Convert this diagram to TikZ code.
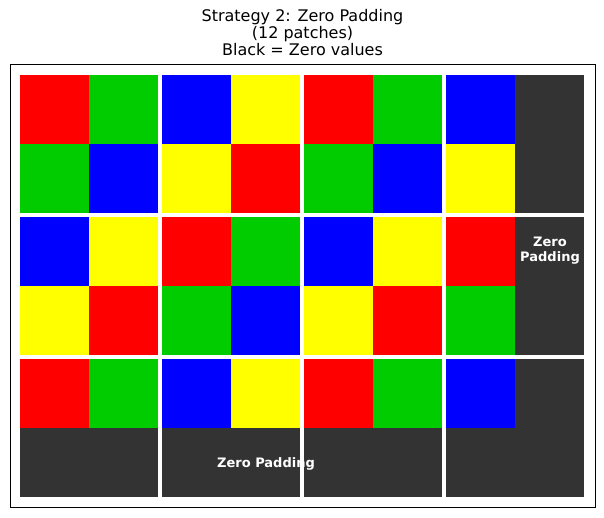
\documentclass[tikz,border=0pt]{standalone}
\usepackage{fontspec}
\setmainfont{DejaVu Sans}
\usepackage{xcolor}
\usepackage{tikz}
\usetikzlibrary{positioning}
\definecolor{cellred}{RGB}{255,0,0}
\definecolor{cellgreen}{RGB}{0,204,0}
\definecolor{cellblue}{RGB}{0,0,255}
\definecolor{cellyellow}{RGB}{255,255,0}
\definecolor{zeropad}{RGB}{51,51,51}

\begin{document}
\begin{tikzpicture}[x=1pt, y=-1pt,
    padtext/.style={text=white, font=\bfseries\fontsize{13}{15}\selectfont, align=center}]
    \useasboundingbox (0,0) rectangle (604,517);
    \node[font=\fontsize{16}{17}\selectfont, align=center] (title) at (302.5,33) {
        Strategy 2: Zero Padding \\
        (12 patches) \\
        Black = Zero values
    };
    \draw[line width=1pt] (10,64) rectangle (595,507);
    \foreach \px in {0,...,3}
        \foreach \py in {0,...,2}
            \foreach \a in {0,1}
                \foreach \b in {0,1} {
                    \pgfmathtruncatemacro{\ci}{2*\px+\a}
                    \pgfmathtruncatemacro{\cj}{2*\py+\b}
                    \pgfmathtruncatemacro{\k}{(\ci==7 || \cj==5) ? 4 : mod(\ci+\cj,4)}
                    \pgfmathparse{{"cellred","cellgreen","cellblue","cellyellow","zeropad"}[\k]}
                    \edef\cellcol{\pgfmathresult}
                    \fill[\cellcol] (20+142*\px+69*\a, 75+142*\py+69*\b) rectangle ++(69,69);
                }
    \node[padtext] (padbottom) at (266,463.5) {Zero Padding};
    \node[padtext] (padright) at (550,250.5) {Zero \\ Padding};
    \foreach \gx in {160,302,444}
        \fill[white] (\gx-2,75) rectangle (\gx+2,497);
    \foreach \gy in {215,357}
        \fill[white] (20,\gy-2) rectangle (584,\gy+2);
\end{tikzpicture}
\end{document}
